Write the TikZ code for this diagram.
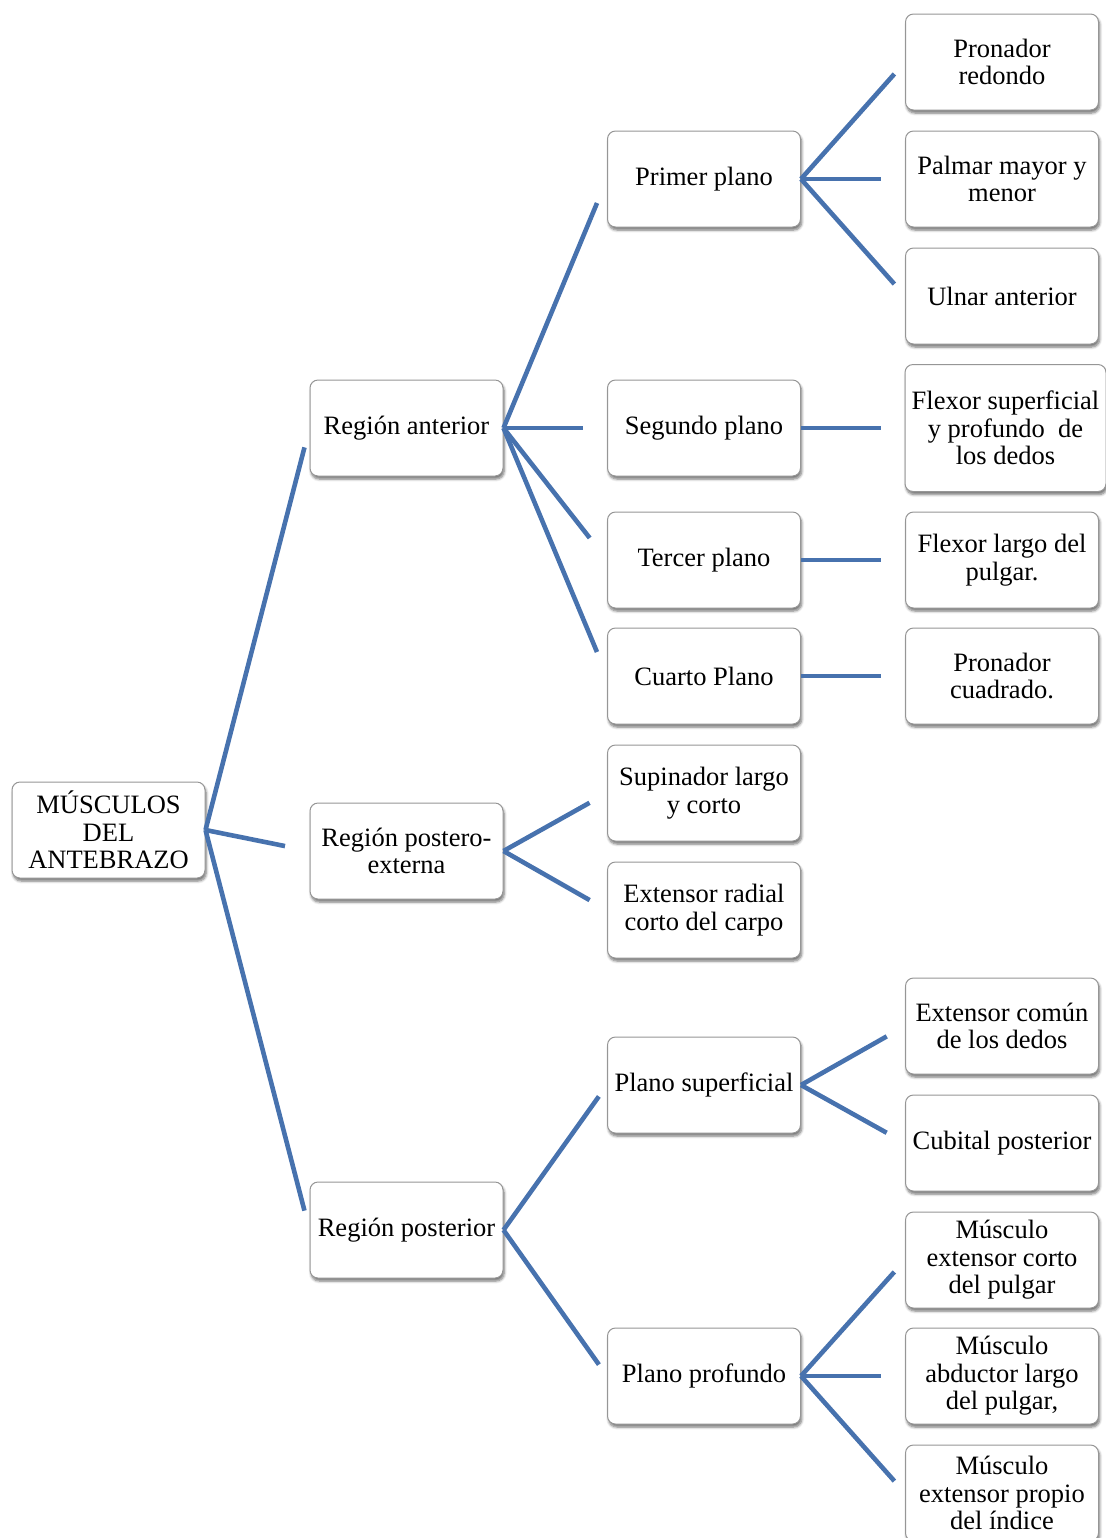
\documentclass[tikz,border=0pt]{standalone}
\usepackage{fontspec}
\setmainfont{Liberation Serif}
\usetikzlibrary{positioning,shadows.blur}
\definecolor{ramablue}{RGB}{71,114,174}
\definecolor{boxgray}{RGB}{150,150,150}
\tikzset{
 caja/.style={
 rectangle,
 rounded corners=4pt,
 draw=boxgray,
 line width=0.5pt,
 fill=white,
 blur shadow={shadow xshift=0.6pt, shadow yshift=-1.5pt, shadow blur steps=6, shadow blur radius=1.3pt, shadow opacity=55},
 align=center,
 minimum width=96.5pt,
 minimum height=48pt,
 inner sep=2pt,
 font=\fontsize{13.25}{13.75}\selectfont
 },
 rama/.style={draw=ramablue, line width=2.3pt, shorten >=10pt},
 recta/.style={rama, shorten >=12pt}
}

\begin{document}
\begin{tikzpicture}[x=0.5pt, y=-0.5pt]
 \useasboundingbox (0,0) rectangle (1106,1538);
 % raiz
 \node[caja] (raiz) at (108.5,830) {MÚSCULOS\\DEL\\ANTEBRAZO};
 % regiones
 \node[caja] (anterior) at (406.5,428) {Región anterior};
 \node[caja] (postext) at (406.5,851) {Región postero-\\externa};
 \node[caja] (posterior) at (406.5,1230) {Región posterior};
 % planos
 \node[caja] (primer) at (704,179) {Primer plano};
 \node[caja] (segundo) at (704,428) {Segundo plano};
 \node[caja] (tercer) at (704,560) {Tercer plano};
 \node[caja] (cuarto) at (704,676) {Cuarto Plano};
 \node[caja] (supinador) at (704,793) {Supinador largo\\y corto};
 \node[caja] (radial) at (704,910) {Extensor radial\\corto del carpo};
 \node[caja] (superficial) at (704,1085) {Plano superficial};
 \node[caja] (profundo) at (704,1376) {Plano profundo};
 % musculos
 \node[caja] (redondo) at (1002,62) {Pronador\\redondo};
 \node[caja] (palmar) at (1002,179) {Palmar mayor y\\menor};
 \node[caja] (ulnar) at (1002,296) {Ulnar anterior};
 \node[caja, minimum width=100.5pt, minimum height=63.5pt] (flexorsup) at (1005.5,428) {Flexor superficial\\y profundo~ de\\los dedos};
 \node[caja] (flexorlargo) at (1002,560) {Flexor largo del\\pulgar.};
 \node[caja] (cuadrado) at (1002,676) {Pronador\\cuadrado.};
 \node[caja] (comun) at (1002,1026) {Extensor común\\de los dedos};
 \node[caja] (cubital) at (1002,1143) {Cubital posterior};
 \node[caja] (extcorto) at (1002,1260) {Músculo\\extensor corto\\del pulgar};
 \node[caja] (abductor) at (1002,1376) {Músculo\\abductor largo\\del pulgar,};
 \node[caja] (propio) at (1002,1493) {Músculo\\extensor propio\\del índice};

 \draw[rama] (raiz.east) -- (anterior.west);
 \draw[rama, shorten >=12.5pt] (raiz.east) -- (postext.west);
 \draw[rama] (raiz.east) -- (posterior.west);

 \draw[rama, shorten >=13pt] (anterior.east) -- (primer.west);
 \draw[recta] (anterior.east) -- (segundo.west);
 \draw[rama, shorten >=14pt] (anterior.east) -- (tercer.west);
 \draw[rama, shorten >=13pt] (anterior.east) -- (cuarto.west);
 \draw[rama] (postext.east) -- (supinador.west);
 \draw[rama] (postext.east) -- (radial.west);
 \draw[rama, shorten >=7pt] (posterior.east) -- (superficial.west);
 \draw[rama, shorten >=7pt] (posterior.east) -- (profundo.west);

 \draw[rama, shorten >=8pt] (primer.east) -- (redondo.west);
 \draw[recta] (primer.east) -- (palmar.west);
 \draw[rama, shorten >=8pt] (primer.east) -- (ulnar.west);
 \draw[recta] (segundo.east) -- (flexorsup.west);
 \draw[recta] (tercer.east) -- (flexorlargo.west);
 \draw[recta] (cuarto.east) -- (cuadrado.west);
 \draw[rama, shorten >=10.5pt] (superficial.east) -- (comun.west);
 \draw[rama, shorten >=10.5pt] (superficial.east) -- (cubital.west);
 \draw[rama, shorten >=8pt] (profundo.east) -- (extcorto.west);
 \draw[recta] (profundo.east) -- (abductor.west);
 \draw[rama, shorten >=8pt] (profundo.east) -- (propio.west);
\end{tikzpicture}
\end{document}
